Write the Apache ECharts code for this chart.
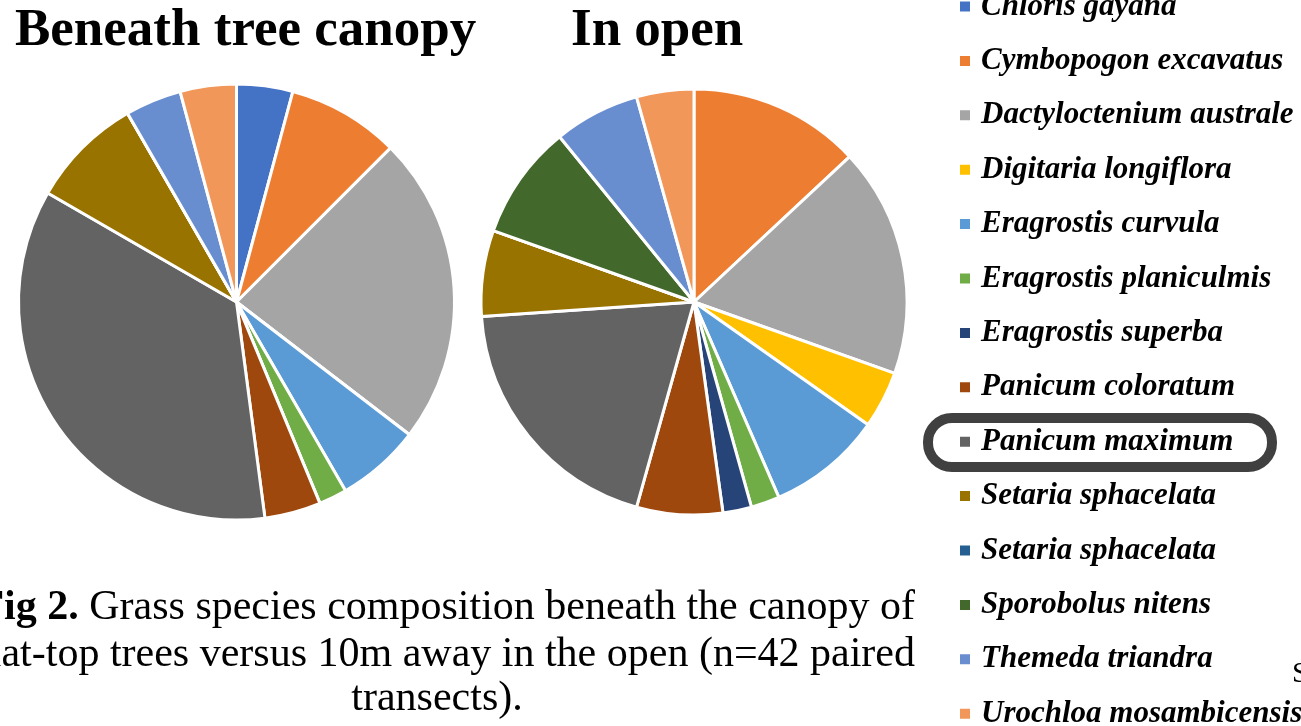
<!DOCTYPE html>
<html>
<head>
<meta charset="utf-8">
<title>Grass species composition</title>
<script src="https://cdn.jsdelivr.net/npm/echarts@6/dist/echarts.min.js"></script>
<style>
  html, body { margin: 0; padding: 0; background: #fff; }
  #chart { width: 1301px; height: 726px; }
</style>
</head>
<body>
<div id="chart"></div>
<script>
// species, in legend order (second Setaria gets a trailing space so the legend keeps both)
var species = [
  'Chloris gayana', 'Cymbopogon excavatus', 'Dactyloctenium australe', 'Digitaria longiflora',
  'Eragrostis curvula', 'Eragrostis planiculmis', 'Eragrostis superba', 'Panicum coloratum',
  'Panicum maximum', 'Setaria sphacelata', 'Setaria sphacelata ', 'Sporobolus nitens',
  'Themeda triandra', 'Urochloa mosambicensis'
];
// relative counts
var canopyValues = [2, 4, 11, 0, 3, 1, 0, 2, 17, 4, 0, 0, 2, 2];
var openValues   = [0, 6, 8, 2, 4, 1, 1, 3, 9, 3, 0, 4, 3, 2];
var titles = ['Beneath tree canopy', 'In open'];
var captionLines = [
  'Grass species composition beneath the canopy of',
  'flat-top trees versus 10m away in the open (n=42 paired',
  'transects).'
];

var palette = ['#4472C4', '#ED7D31', '#A5A5A5', '#FFC000', '#5B9BD5', '#70AD47', '#264478',
  '#9E480E', '#636363', '#997300', '#255E91', '#43682B', '#698ED0', '#F1975A'];

var serif = '"Liberation Serif", "Times New Roman", serif';

function toData(vals) {
  return species.map(function (n, i) { return { name: n, value: vals[i] }; });
}

function pie(center, radius, vals) {
  return {
    type: 'pie',
    center: center,
    radius: radius,
    startAngle: 90,
    clockwise: true,
    label: { show: false },
    labelLine: { show: false },
    emphasis: { disabled: true },
    itemStyle: { borderColor: '#fff', borderWidth: 3 },
    data: toData(vals)
  };
}

var myChart = echarts.init(document.getElementById('chart'));
var option = {
  animation: false,
  color: palette,
  legend: {
    orient: 'vertical',
    left: 958,
    top: -9,
    height: 900,
    padding: 0,
    itemWidth: 12,
    itemHeight: 12,
    itemGap: 23.4,
    icon: 'rect',
    selectedMode: false,
    data: species,
    textStyle: {
      fontFamily: serif,
      fontSize: 31,
      fontWeight: 'bold',
      fontStyle: 'italic',
      color: '#000',
      lineHeight: 30,
      padding: [0, 0, 0, 5]
    }
  },
  graphic: [
    { type: 'text', left: 15, top: 5, style: { text: titles[0], font: 'bold 53px ' + serif, fill: '#000' } },
    { type: 'text', left: 571, top: 5, style: { text: titles[1], font: 'bold 53px ' + serif, fill: '#000' } },
    {
      type: 'text', x: 915, y: 608,
      style: {
        text: '{b|Fig 2.} ' + captionLines[0],
        align: 'right', verticalAlign: 'middle',
        font: '42px ' + serif, fill: '#000',
        rich: { b: { fontFamily: serif, fontSize: 42, fontWeight: 'bold', fill: '#000' } }
      }
    },
    { type: 'text', x: 915, y: 655, style: { text: captionLines[1], align: 'right', verticalAlign: 'middle', font: '42px ' + serif, fill: '#000' } },
    { type: 'text', x: 437, y: 699, style: { text: captionLines[2], align: 'center', verticalAlign: 'middle', font: '42px ' + serif, fill: '#000' } },
    { type: 'text', x: 1292, y: 674, style: { text: 'S', verticalAlign: 'middle', font: '30px ' + serif, fill: '#000' } },
    {
      type: 'rect', z: 100,
      shape: { x: 928, y: 418, width: 344, height: 49, r: 24 },
      style: { fill: 'none', stroke: '#404040', lineWidth: 10 }
    }
  ],
  series: [
    pie([236.5, 302], 218, canopyValues),
    pie([694, 302], 213, openValues)
  ]
};
myChart.setOption(option);
window.addEventListener('resize', function () {
  myChart.resize();
});
</script>
</body>
</html>
